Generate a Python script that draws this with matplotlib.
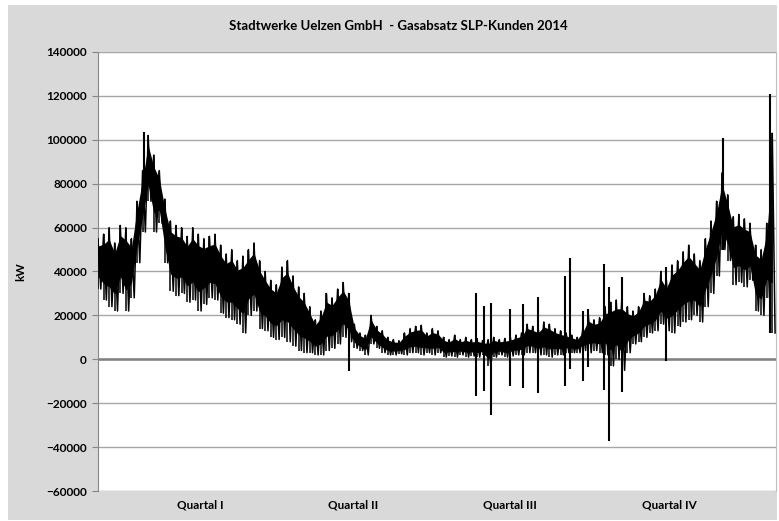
import matplotlib
matplotlib.use('Agg')
import matplotlib.pyplot as plt
from matplotlib.patches import Rectangle
import numpy as np

# daily peak / trough of the load, read every 3 days (kW)
day_high = [55000, 57000, 60000, 53000, 61000, 60000, 55000, 72000, 86000, 102000,
            93000, 86000, 73000, 63000, 61000, 60000, 56000, 60000, 57000, 55000,
            56000, 57000, 52000, 48000, 50000, 45000, 47000, 50000, 53000, 45000,
            40000, 36000, 34000, 42000, 45000, 38000, 33000, 30000, 24000, 18000,
            22000, 30000, 28000, 32000, 35000, 30000, 16000, 12000, 11000, 20000,
            15000, 13000, 10000, 9000, 8500, 12000, 14000, 15000, 15500, 12000,
            14000, 13000, 10000, 9000, 11000, 9000, 10000, 9000, 9500, 8500,
            9000, 10000, 9000, 9500, 10000, 11000, 12000, 16000, 15000, 14000,
            17000, 16000, 14000, 13000, 12000, 11000, 10000, 14000, 20000, 18000,
            19000, 24000, 26000, 27000, 28000, 24000, 22000, 24000, 30000, 29000,
            32000, 40000, 36000, 43000, 45000, 49000, 52000, 48000, 45000, 55000,
            63000, 72000, 85000, 75000, 65000, 66000, 64000, 62000, 52000, 50000,
            62000, 103000]
day_low = [32000, 27000, 24000, 22000, 30000, 22000, 28000, 44000, 58000, 72000,
           58000, 62000, 44000, 31000, 29000, 30000, 26000, 27000, 22000, 25000,
           28000, 27000, 21000, 19000, 18000, 16000, 12000, 20000, 22000, 14000,
           13000, 10000, 9000, 10000, 8000, 6000, 4000, 3000, 3000, 2000,
           2000, 4000, 5000, 7000, 10000, 8000, 5000, 4000, 2000, 7000,
           5000, 3000, 2000, 2000, 2500, 2000, 3000, 3000, 2000, 3000,
           2000, 3000, 1000, 1500, 1000, 2000, 1000, 1500, 1000, 2000,
           -3000, 1000, 2000, 1000, 1500, 2000, 2000, 3000, 3000, 2000,
           2000, 1000, 2000, 2000, 3000, 3000, 3000, 4000, 3000, 4000,
           3000, 2000, -3000, 0, -5000, 3000, 7000, 8000, 10000, 12000,
           13000, 16000, 13000, 12000, 15000, 17000, 18000, 20000, 17000, 24000,
           30000, 38000, 50000, 45000, 34000, 35000, 33000, 36000, 22000, 20000,
           28000, 12000]

# single-hour outliers
spike_day = [25, 135, 203.3, 208, 211.5, 222, 228.6, 236.7, 251.4, 254, 261, 264,
             272.4, 275, 282, 306, 336.5, 362]
spike_top = [103500, 30000, 30000, 24500, 25500, 22700, 25000, 28500, 38000, 46000,
             22000, 23000, 43500, 33000, 37400, 42000, 100700, 121000]
spike_bottom = [75000, -5500, -16700, -14400, -25500, -12000, -13000, -15500, -12000,
                -4500, -10000, -3500, -14000, -37000, -15000, -1000, 50000, 12000]

quartal_labels = ['Quartal I', 'Quartal II', 'Quartal III', 'Quartal IV']
quartal_pos = [54.9, 137.3, 221.8, 307.4]

plt.rcParams['font.family'] = ['Lato', 'DejaVu Sans']
plt.rcParams['font.weight'] = 'bold'

fig = plt.figure(figsize=(7.79, 5.21), dpi=100)
fig.patches.append(Rectangle((8/779, 1/521), 769/779, 515/521, transform=fig.transFigure,
                             facecolor='#d9d9d9', edgecolor='none', zorder=-10))
ax = fig.add_axes([98/779, 1 - 491/521, 678/779, 439/521])
ax.set_facecolor('white')

days = np.arange(len(day_high)) * 3.0
hi = np.array(day_high, dtype=float)
lo = np.array(day_low, dtype=float)
x = np.empty(2 * len(days))
y = np.empty(2 * len(days))
x[0::2] = days
x[1::2] = days + 1.5
y[0::2] = hi
y[1::2] = lo

# hourly values too dense to resolve: solid core, spiky strokes out to the daily extremes
ax.fill_between(days, lo + 0.25 * (hi - lo), hi - 0.15 * (hi - lo), color='black', lw=0, zorder=3)
ax.vlines(days, lo, hi, color='black', lw=1.1, zorder=3)
ax.plot(x, y, color='black', lw=1.1, zorder=3)
ax.vlines(spike_day, spike_bottom, spike_top, color='black', lw=1.5, zorder=3)

ax.set_xlim(0, 365)
ax.set_ylim(-60000, 140000)
ax.set_yticks(np.arange(-60000, 140001, 20000))
ax.yaxis.grid(True, color='#a6a6a6', lw=1)
ax.set_axisbelow(True)
ax.axhline(0, color='#808080', lw=1.8, zorder=2)

ax.set_xticks(quartal_pos)
ax.set_xticklabels(quartal_labels, fontsize=8.5, fontweight='bold')
ax.tick_params(axis='x', length=0, pad=6)
ax.tick_params(axis='y', length=4, color='#868686', labelsize=8.5, pad=4)
for lab in ax.get_yticklabels():
    lab.set_fontweight('bold')

for s in ['top', 'bottom']:
    ax.spines[s].set_visible(False)
ax.spines['left'].set_color('#868686')
ax.spines['right'].set_color('#bfbfbf')

ax.set_ylabel('kW', fontsize=8.5, fontweight='bold', labelpad=14)
fig.text(398/779, 1 - 26/521, 'Stadtwerke Uelzen GmbH  - Gasabsatz SLP-Kunden 2014',
         ha='center', va='center', fontsize=9.5, fontweight='bold')

fig.savefig('out.png', dpi=100, facecolor='white')
